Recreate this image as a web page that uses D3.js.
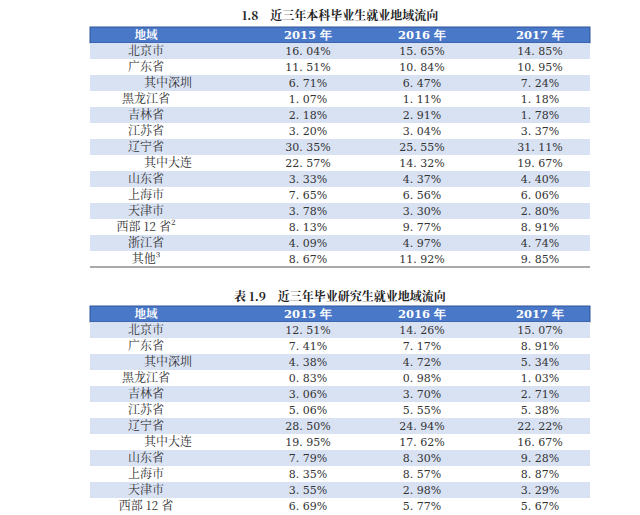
<!DOCTYPE html>
<html><head><meta charset="utf-8">
<script src="https://cdn.jsdelivr.net/npm/d3@7"></script>
<style>body{margin:0;background:#fff}</style>
</head><body>
<svg id="c" width="640" height="515"></svg>
<script>
// Data
var years = ["2015 年", "2016 年", "2017 年"];
var regions1 = ["北京市", "广东省", "其中深圳", "黑龙江省", "吉林省", "江苏省", "辽宁省", "其中大连", "山东省", "上海市", "天津市", "西部 12 省²", "浙江省", "其他³"];
var v2015a = ["16.04%", "11.51%", "6.71%", "1.07%", "2.18%", "3.20%", "30.35%", "22.57%", "3.33%", "7.65%", "3.78%", "8.13%", "4.09%", "8.67%"];
var v2016a = ["15.65%", "10.84%", "6.47%", "1.11%", "2.91%", "3.04%", "25.55%", "14.32%", "4.37%", "6.56%", "3.30%", "9.77%", "4.97%", "11.92%"];
var v2017a = ["14.85%", "10.95%", "7.24%", "1.18%", "1.78%", "3.37%", "31.11%", "19.67%", "4.40%", "6.06%", "2.80%", "8.91%", "4.74%", "9.85%"];
var regions2 = ["北京市", "广东省", "其中深圳", "黑龙江省", "吉林省", "江苏省", "辽宁省", "其中大连", "山东省", "上海市", "天津市", "西部 12 省"];
var v2015b = ["12.51%", "7.41%", "4.38%", "0.83%", "3.06%", "5.06%", "28.50%", "19.95%", "7.79%", "8.35%", "3.55%", "6.69%"];
var v2016b = ["14.26%", "7.17%", "4.72%", "0.98%", "3.70%", "5.55%", "24.94%", "17.62%", "8.30%", "8.57%", "2.98%", "5.77%"];
var v2017b = ["15.07%", "8.91%", "5.34%", "1.03%", "2.71%", "5.38%", "22.22%", "16.67%", "9.28%", "8.87%", "3.29%", "5.67%"];

var svg = d3.select("#c");
var font = "'Noto Serif CJK SC','Noto Sans CJK SC',serif";
var numFont = "'DejaVu Serif','Liberation Serif',serif";
var x0 = 90, x1 = 590, rowH = 16;
var colX = d3.scaleOrdinal().domain([0, 1, 2, 3]).range([146, 308, 422, 540]);

function drawTable(title, titleY, top, regions, vals, closed) {
    var g = svg.append("g");
    g.append("text").text(title)
        .attr("x", 340).attr("y", titleY)
        .attr("text-anchor", "middle")
        .attr("font-family", font).attr("font-size", 12).attr("font-weight", "bold")
        .style("fill", "#222");

    // Header
    g.append("rect").attr("x", x0).attr("y", top).attr("width", x1 - x0).attr("height", rowH)
        .style("fill", "#4a78c8").style("stroke", "#2f5597");
    ["地域"].concat(years).forEach(function (t, i) {
        g.append("text").text(t)
            .attr("x", colX(i)).attr("y", top + 12)
            .attr("text-anchor", "middle")
            .attr("font-family", i ? numFont : font).attr("font-size", 11.5).attr("font-weight", "bold")
            .style("fill", "#fff");
    });

    var y = d3.scaleBand().domain(d3.range(regions.length))
        .range([top + rowH, top + rowH * (regions.length + 1)]);

    var rows = g.selectAll(".row").data(regions).enter().append("g")
        .attr("transform", (d, i) => `translate(0, ${y(i)})`);
    rows.append("rect").attr("x", x0).attr("width", x1 - x0).attr("height", y.bandwidth())
        .style("fill", (d, i) => i % 2 === 0 ? "#d9e2f3" : "#fff");
    rows.append("text").text(d => d)
        .attr("x", d => d.indexOf("其中") === 0 ? colX(0) + 22 : colX(0))
        .attr("y", 12).attr("text-anchor", "middle")
        .attr("font-family", font).attr("font-size", 12).style("fill", "#333");
    vals.forEach(function (arr, k) {
        rows.append("text").text((d, i) => arr[i].replace(".", ". "))
            .attr("x", colX(k + 1)).attr("y", 12).attr("text-anchor", "middle")
            .attr("font-family", numFont).attr("font-size", 11).style("fill", "#333");
    });
    if (closed) {
        var bottom = top + rowH * (regions.length + 1);
        g.append("line").attr("x1", x0).attr("x2", x1).attr("y1", bottom).attr("y2", bottom)
            .style("stroke", "#555").style("stroke-width", 1.2);
    }
}

drawTable("1.8　近三年本科毕业生就业地域流向", 20, 27, regions1, [v2015a, v2016a, v2017a], true);
drawTable("表 1.9　近三年毕业研究生就业地域流向", 301, 306, regions2, [v2015b, v2016b, v2017b], false);
</script>
</body></html>
